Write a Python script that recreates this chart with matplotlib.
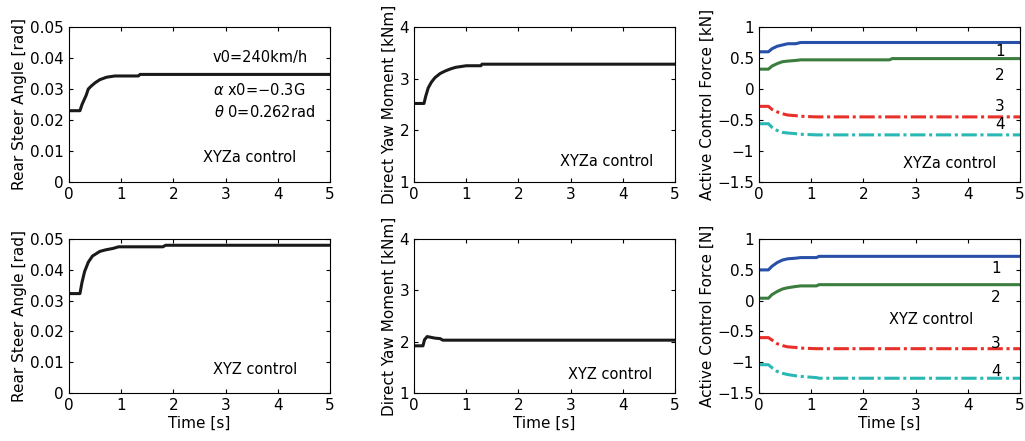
import numpy as np
import matplotlib
matplotlib.use("Agg")
import matplotlib.pyplot as plt

# ---- data ----
# rear steer angle [rad]
t_rs_a = [0, 0.21, 0.25, 0.33, 0.37, 0.43, 0.5, 0.59, 0.72, 0.88, 1.33, 1.36, 5]
rs_a = [0.023, 0.023, 0.025, 0.028, 0.030, 0.031, 0.032, 0.033, 0.0338, 0.0342, 0.0342, 0.0347, 0.0347]
t_rs_b = [0, 0.21, 0.25, 0.3, 0.37, 0.45, 0.59, 0.7, 0.85, 0.95, 1.8, 1.85, 5]
rs_b = [0.0323, 0.0323, 0.036, 0.0395, 0.0425, 0.0445, 0.046, 0.0465, 0.047, 0.0475, 0.0475, 0.0480, 0.0480]

# direct yaw moment [kNm]
t_ym_a = [0, 0.19, 0.22, 0.27, 0.33, 0.4, 0.5, 0.6, 0.7, 0.8, 1.0, 1.28, 1.3, 5]
ym_a = [2.52, 2.52, 2.65, 2.82, 2.93, 3.02, 3.1, 3.15, 3.19, 3.22, 3.25, 3.25, 3.28, 3.28]
t_ym_b = [0, 0.17, 0.2, 0.25, 0.3, 0.4, 0.5, 0.55, 5]
ym_b = [1.92, 1.92, 2.04, 2.1, 2.09, 2.07, 2.06, 2.03, 2.03]

# active control force, XYZa [kN]
t_f = [0, 0.18, 0.25, 0.35, 0.45, 0.55, 0.7, 0.8, 1.1, 2.5, 2.55, 5]
fa1 = [0.60, 0.60, 0.65, 0.69, 0.71, 0.73, 0.73, 0.75, 0.75, 0.75, 0.75, 0.75]
fa2 = [0.32, 0.32, 0.37, 0.41, 0.44, 0.45, 0.46, 0.47, 0.47, 0.47, 0.49, 0.49]
fa3 = [-0.28, -0.28, -0.33, -0.37, -0.40, -0.42, -0.43, -0.44, -0.45, -0.45, -0.45, -0.45]
fa4 = [-0.56, -0.56, -0.62, -0.67, -0.70, -0.71, -0.72, -0.73, -0.74, -0.74, -0.74, -0.74]
# active control force, XYZ [N]
t_fb = [0, 0.18, 0.25, 0.35, 0.45, 0.55, 0.7, 0.8, 1.1, 1.15, 5]
fb1 = [0.50, 0.50, 0.56, 0.62, 0.66, 0.68, 0.69, 0.70, 0.70, 0.72, 0.72]
fb2 = [0.04, 0.04, 0.10, 0.15, 0.19, 0.21, 0.23, 0.24, 0.24, 0.26, 0.26]
fb3 = [-0.60, -0.60, -0.64, -0.70, -0.73, -0.75, -0.76, -0.77, -0.78, -0.78, -0.78]
fb4 = [-1.04, -1.04, -1.09, -1.15, -1.18, -1.20, -1.22, -1.23, -1.25, -1.26, -1.26]

colors = ["#2850a8", "#3a7d3e", "#e8302a", "#2ab8b4"]

plt.rcParams['font.family'] = ['DejaVu Sans']
plt.rcParams['font.size'] = 10

fig = plt.figure(figsize=(10.25, 4.41), dpi=100)
lefts = [0.0673, 0.404, 0.7405]
w = 0.2546
rows = [(0.5873, 0.3515), (0.1088, 0.349)]

def style(ax, ylim, yticks, ylabel, xlabel=None):
    ax.set_xlim(0, 5)
    ax.set_ylim(*ylim)
    ax.set_xticks([0, 1, 2, 3, 4, 5])
    ax.set_yticks(yticks)
    ax.tick_params(direction='in', top=True, right=True, length=3, labelsize=11)
    ax.set_ylabel(ylabel, fontsize=11, labelpad=2)
    if xlabel:
        ax.set_xlabel(xlabel, fontsize=11, labelpad=2)
    for s in ax.spines.values():
        s.set_linewidth(0.8)

axs = [[fig.add_axes([l, b, w, h]) for l in lefts] for (b, h) in rows]
dd = (0, (5, 1.2, 1, 1.2))

# rear steer
ax = axs[0][0]
ax.plot(t_rs_a, rs_a, color='#1a1a1a', lw=2.2)
style(ax, (0, 0.05), [0, 0.01, 0.02, 0.03, 0.04, 0.05], 'Rear Steer Angle [rad]')
ax.set_yticklabels(['0', '0.01', '0.02', '0.03', '0.04', '0.05'])
ax.text(2.76, 0.0403, 'v0=240km/h', fontsize=10.5, va='center')
ax.text(2.76, 0.0297, r'$\alpha$ x0=−0.3G', fontsize=10.5, va='center')
ax.text(2.78, 0.0226, r'$\theta$ 0=0.262rad', fontsize=10.5, va='center')
ax.text(2.57, 0.008, 'XYZa control', fontsize=10.5, va='center')

ax = axs[1][0]
ax.plot(t_rs_b, rs_b, color='#1a1a1a', lw=2.2)
style(ax, (0, 0.05), [0, 0.01, 0.02, 0.03, 0.04, 0.05], 'Rear Steer Angle [rad]', 'Time [s]')
ax.set_yticklabels(['0', '0.01', '0.02', '0.03', '0.04', '0.05'])
ax.text(2.76, 0.0075, 'XYZ control', fontsize=10.5, va='center')

# yaw moment
ax = axs[0][1]
ax.plot(t_ym_a, ym_a, color='#1a1a1a', lw=2.2)
style(ax, (1, 4), [1, 2, 3, 4], 'Direct Yaw Moment [kNm]')
ax.text(2.8, 1.39, 'XYZa control', fontsize=10.5, va='center')

ax = axs[1][1]
ax.plot(t_ym_b, ym_b, color='#1a1a1a', lw=2.2)
style(ax, (1, 4), [1, 2, 3, 4], 'Direct Yaw Moment [kNm]', 'Time [s]')
ax.text(2.95, 1.37, 'XYZ control', fontsize=10.5, va='center')

# active control force
fticks = [-1.5, -1, -0.5, 0, 0.5, 1]
flabels = ['−1.5', '−1', '−0.5', '0', '0.5', '1']

ax = axs[0][2]
for ys, c, ls in zip([fa1, fa2, fa3, fa4], colors, ['-', '-', dd, dd]):
    ax.plot(t_f, ys, color=c, lw=2.2, ls=ls)
style(ax, (-1.5, 1), fticks, 'Active Control Force [kN]')
ax.set_yticklabels(flabels)
for s, yy in zip(['1', '2', '3', '4'], [0.6, 0.22, -0.28, -0.58]):
    ax.text(4.52, yy, s, fontsize=11, va='center')
ax.text(2.76, -1.2, 'XYZa control', fontsize=10.5, va='center')

ax = axs[1][2]
for ys, c, ls in zip([fb1, fb2, fb3, fb4], colors, ['-', '-', dd, dd]):
    ax.plot(t_fb, ys, color=c, lw=2.2, ls=ls)
style(ax, (-1.5, 1), fticks, 'Active Control Force [N]', 'Time [s]')
ax.set_yticklabels(flabels)
for s, yy in zip(['1', '2', '3', '4'], [0.52, 0.05, -0.7, -1.15]):
    ax.text(4.45, yy, s, fontsize=11, va='center')
ax.text(2.49, -0.30, 'XYZ control', fontsize=10.5, va='center')

fig.savefig('out.png', dpi=100)
